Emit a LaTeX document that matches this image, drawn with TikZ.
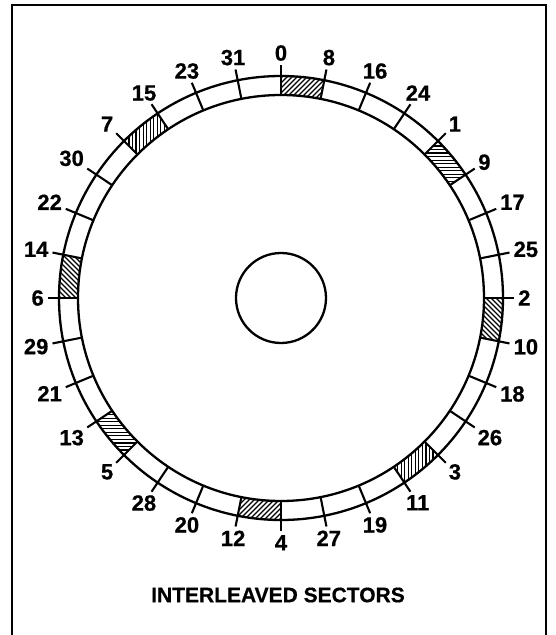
\documentclass[tikz,border=0pt]{standalone}
\usepackage{fontspec}
\setmainfont{Liberation Sans}
\newfontfamily\heavyfont[FakeBold=0.6]{Liberation Sans Bold}
\begin{document}
\begin{tikzpicture}[x=1pt,y=1pt,
  ring/.style={line width=2.3pt},
  tickmark/.style={line width=2.1pt},
  hatchline/.style={line width=1.2pt},
  frameline/.style={line width=1.8pt},
  lab/.style={font=\fontsize{22}{22}\selectfont\heavyfont, inner sep=0pt},
  ttl/.style={font=\fontsize{21}{21}\selectfont\heavyfont, inner sep=0pt}
]
\useasboundingbox (-281,-337) rectangle (274,298);
% frame (open at the bottom edge)
\draw[frameline] (-269,-340) -- (-269,293) -- (265,293) -- (265,-340);
% hatched sectors
\foreach \m in {0,...,7} {
  \begin{scope}[rotate=-45*\m]
    \clip (90:222) arc[start angle=90,end angle=78.75,radius=222] -- (78.75:203) arc[start angle=78.75,end angle=90,radius=203] -- cycle;
    \foreach \c in {-60,-55,...,60} \draw[hatchline] (\c,190) -- ++(45:50);
  \end{scope}
}
% circles
\draw[ring] (0,0) circle[radius=222];
\draw[ring] (0,0) circle[radius=203];
\draw[ring] (0,0) circle[radius=45];
% ticks and labels
\foreach \k in {0,...,31} {
  \pgfmathsetmacro\ang{90-11.25*\k}
  \pgfmathsetmacro\anc{90-11.25*\k+180}
  \pgfmathtruncatemacro\lbl{mod(\k,4)*8+floor(\k/4)}
  \draw[tickmark] (\ang:203) -- (\ang:233);
  \node[lab, anchor=\anc] (l\lbl) at (\ang:237) {\lbl};
}
\node[ttl] (title) at (-3,-297) {INTERLEAVED SECTORS};
\end{tikzpicture}
\end{document}
